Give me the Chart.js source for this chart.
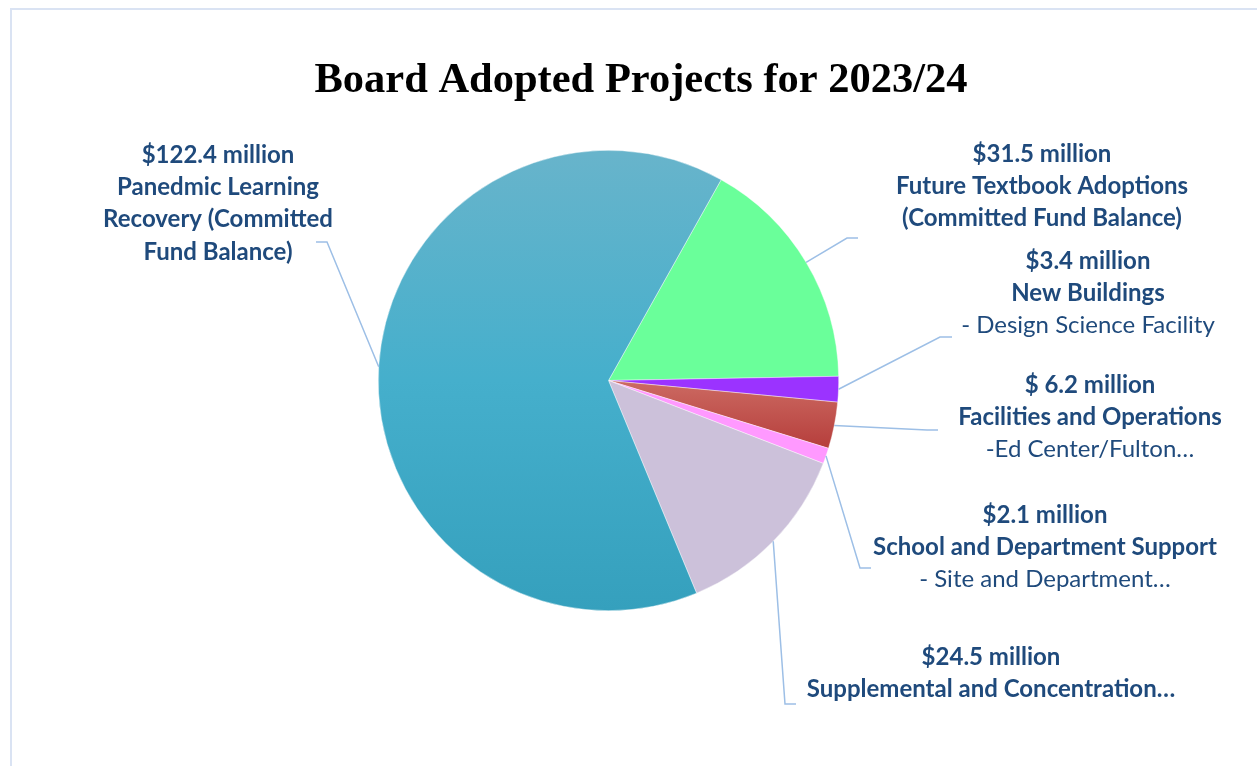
<!DOCTYPE html>
<html>
<head>
<meta charset="utf-8">
<title>Board Adopted Projects for 2023/24</title>
<script src="https://cdn.jsdelivr.net/npm/chart.js@4.4.1/dist/chart.umd.min.js"></script>
<style>
  html, body { margin: 0; padding: 0; background: #fff; overflow: hidden; }
  #frame { position: absolute; left: 10px; top: 8px; width: 1400px; height: 900px; border: 2px solid #dae3f3; }
  #projectsChart { position: absolute; left: 0; top: 0; }
</style>
</head>
<body>
<div id="frame"></div>
<canvas id="projectsChart" width="1257" height="766"></canvas>
<script>
const chartTitle = 'Board Adopted Projects for 2023/24';

// slices, clockwise from the green one
const projects = [
    'Future Textbook Adoptions',
    'New Buildings',
    'Facilities and Operations',
    'School and Department Support',
    'Supplemental and Concentration',
    'Panedmic Learning Recovery'
];
const amounts = [31.5, 3.4, 6.2, 2.1, 24.5, 122.4]; // $ million
const amountLabels = ['$31.5 million', '$3.4 million', '$ 6.2 million', '$2.1 million', '$24.5 million', '$122.4 million'];
const nameLines = [
    ['Future Textbook Adoptions', '(Committed Fund Balance)'],
    ['New Buildings'],
    ['Facilities and Operations'],
    ['School and Department Support'],
    ['Supplemental and Concentration…'],
    ['Panedmic Learning', 'Recovery (Committed', 'Fund Balance)']
];
const detailLines = ['', '- Design Science Facility', '-Ed Center/Fulton…', '- Site and Department…', '', ''];

const textColor = '#1f4a7c';
const leaderColor = '#9dbfe6';

// label block placement + leader elbow (canvas px)
const labelLayout = [
    { x: 1042, y: 154, elbow: [847, 238], end: [858, 238] },
    { x: 1088, y: 261, elbow: [940, 337], end: [952, 337] },
    { x: 1090, y: 385, elbow: [927, 430], end: [938, 430] },
    { x: 1045, y: 515, elbow: [860, 568], end: [871, 568] },
    { x: 991, y: 657, elbow: [785, 704], end: [796, 704] },
    { x: 218, y: 155, elbow: [327, 242], end: [316, 242] }
];

function sliceColor(context) {
    const i = context.dataIndex;
    const area = context.chart.chartArea;
    const flat = ['#6aff9a', '#9b33ff', '#c24b47', '#ff99ff', '#ccc1da', '#45aecb'];
    if (!area) return flat[i];
    const ctx = context.chart.ctx;
    const cy = (area.top + area.bottom) / 2;
    const r = area.height / 2;
    if (i === 5) {
        const g = ctx.createLinearGradient(0, area.top, 0, area.bottom);
        g.addColorStop(0, '#68b4cb');
        g.addColorStop(0.5, '#45afcc');
        g.addColorStop(1, '#35a0bd');
        return g;
    }
    if (i === 2) {
        const g = ctx.createLinearGradient(0, cy, 0, cy + r * 0.32);
        g.addColorStop(0, '#cc6a62');
        g.addColorStop(1, '#b43a38');
        return g;
    }
    return flat[i];
}

// title + outside labels with leader lines
const calloutPlugin = {
    id: 'callouts',
    afterDraw(chart) {
        const ctx = chart.ctx;
        const meta = chart.getDatasetMeta(0);
        ctx.save();

        ctx.fillStyle = '#000';
        ctx.font = 'bold 42.5px "Liberation Serif", "Times New Roman", serif';
        ctx.textAlign = 'center';
        ctx.textBaseline = 'alphabetic';
        ctx.fillText(chartTitle, 641, 92);

        meta.data.forEach((arc, i) => {
            const p = arc.getProps(['x', 'y', 'startAngle', 'endAngle', 'outerRadius'], true);
            const mid = (p.startAngle + p.endAngle) / 2;
            const sx = p.x + Math.cos(mid) * p.outerRadius;
            const sy = p.y + Math.sin(mid) * p.outerRadius;
            const lay = labelLayout[i];

            ctx.strokeStyle = leaderColor;
            ctx.lineWidth = 1.5;
            ctx.beginPath();
            ctx.moveTo(sx, sy);
            ctx.lineTo(lay.elbow[0], lay.elbow[1]);
            ctx.lineTo(lay.end[0], lay.end[1]);
            ctx.stroke();

            const lines = [{ t: amountLabels[i], bold: true }]
                .concat(nameLines[i].map(t => ({ t: t, bold: true })));
            if (detailLines[i]) lines.push({ t: detailLines[i], bold: false });

            ctx.fillStyle = textColor;
            ctx.textAlign = 'center';
            ctx.textBaseline = 'middle';
            lines.forEach((ln, k) => {
                ctx.font = (ln.bold ? 'bold ' : '') + '24px Lato, "Open Sans", sans-serif';
                ctx.fillText(ln.t, lay.x, lay.y + k * 32.3);
            });
        });
        ctx.restore();
    }
};

new Chart(document.getElementById('projectsChart'), {
    type: 'pie',
    data: {
        labels: projects,
        datasets: [{
            data: amounts,
            backgroundColor: sliceColor,
            borderColor: 'rgba(255,255,255,0.7)',
            borderWidth: 0.6
        }]
    },
    options: {
        responsive: false,
        animation: false,
        rotation: 29.3,
        layout: {
            padding: { top: 150, bottom: 155, left: 378, right: 418 }
        },
        plugins: {
            legend: { display: false },
            tooltip: { enabled: false },
            title: { display: false }
        }
    },
    plugins: [calloutPlugin]
});
</script>
</body>
</html>
